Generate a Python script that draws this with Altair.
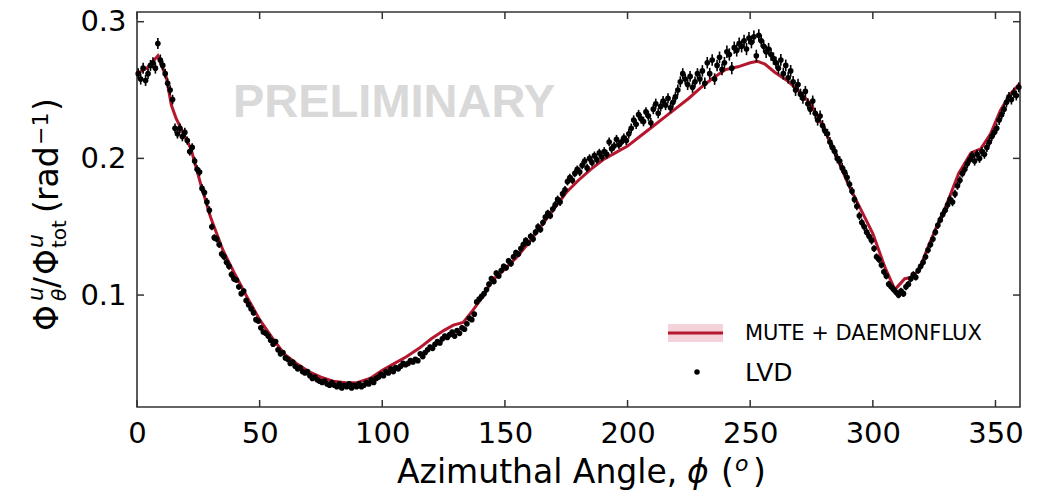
import altair as alt
import pandas as pd

# ---------------- data ----------------
# LVD measurement, one value per 1-degree bin (bin centres 0.5 ... 359.5)
lvd_flux = [
    0.262, 0.258, 0.266, 0.257, 0.262, 0.268, 0.270, 0.266, 0.284, 0.272,
    0.268, 0.262, 0.255, 0.250, 0.243, 0.222, 0.218, 0.222, 0.216, 0.219,
    0.213, 0.205, 0.208, 0.198, 0.192, 0.190, 0.178, 0.175, 0.168, 0.162,
    0.150, 0.142, 0.141, 0.137, 0.130, 0.128, 0.124, 0.121, 0.115, 0.112,
    0.111, 0.106, 0.101, 0.103, 0.096, 0.093, 0.090, 0.087, 0.082, 0.081,
    0.076, 0.073, 0.072, 0.070, 0.067, 0.064, 0.066, 0.060, 0.057, 0.058,
    0.054, 0.053, 0.050, 0.051, 0.048, 0.046, 0.047, 0.044, 0.043, 0.044,
    0.041, 0.039, 0.040, 0.038, 0.037, 0.036, 0.037, 0.035, 0.034, 0.036,
    0.034, 0.033, 0.035, 0.032, 0.034, 0.033, 0.035, 0.032, 0.034, 0.033,
    0.035, 0.033, 0.034, 0.036, 0.035, 0.038, 0.036, 0.039, 0.040, 0.042,
    0.041, 0.044, 0.043, 0.046, 0.044, 0.047, 0.046, 0.048, 0.050, 0.049,
    0.050, 0.052, 0.051, 0.053, 0.052, 0.057, 0.055, 0.058, 0.060, 0.062,
    0.061, 0.064, 0.066, 0.065, 0.068, 0.070, 0.069, 0.071, 0.073, 0.070,
    0.074, 0.072, 0.076, 0.075, 0.079, 0.083, 0.082, 0.086, 0.095, 0.097,
    0.099, 0.101, 0.104, 0.108, 0.112, 0.110, 0.116, 0.114, 0.118, 0.121,
    0.120, 0.125, 0.123, 0.128, 0.131, 0.130, 0.134, 0.137, 0.140, 0.138,
    0.143, 0.141, 0.146, 0.150, 0.148, 0.153, 0.157, 0.160, 0.158, 0.163,
    0.166, 0.170, 0.168, 0.174, 0.177, 0.183, 0.186, 0.184, 0.189, 0.192,
    0.190, 0.195, 0.198, 0.193, 0.200, 0.197, 0.202, 0.199, 0.204, 0.201,
    0.205, 0.203, 0.212, 0.207, 0.209, 0.214, 0.210, 0.212, 0.215, 0.213,
    0.218, 0.222, 0.228, 0.225, 0.232, 0.229, 0.227, 0.234, 0.231, 0.226,
    0.236, 0.240, 0.233, 0.238, 0.242, 0.239, 0.244, 0.237, 0.241, 0.245,
    0.250, 0.256, 0.262, 0.258, 0.254, 0.260, 0.252, 0.256, 0.262, 0.258,
    0.264, 0.255, 0.270, 0.262, 0.272, 0.258, 0.268, 0.274, 0.265, 0.270,
    0.278, 0.276, 0.266, 0.281, 0.279, 0.284, 0.282, 0.286, 0.280, 0.288,
    0.285, 0.289, 0.275, 0.290, 0.286, 0.282, 0.278, 0.280, 0.276, 0.273,
    0.270, 0.266, 0.272, 0.262, 0.268, 0.259, 0.264, 0.256, 0.250, 0.254,
    0.247, 0.244, 0.249, 0.240, 0.236, 0.242, 0.233, 0.228, 0.231, 0.224,
    0.220, 0.218, 0.212, 0.208, 0.205, 0.200, 0.198, 0.193, 0.190, 0.186,
    0.181, 0.176, 0.170, 0.165, 0.158, 0.153, 0.150, 0.146, 0.143, 0.140,
    0.134, 0.128, 0.126, 0.122, 0.117, 0.114, 0.108, 0.106, 0.104, 0.102,
    0.100, 0.103, 0.101, 0.106, 0.108, 0.112, 0.115, 0.113, 0.118, 0.121,
    0.124, 0.128, 0.133, 0.137, 0.141, 0.146, 0.151, 0.155, 0.159, 0.162,
    0.166, 0.170, 0.168, 0.174, 0.180, 0.184, 0.189, 0.192, 0.196, 0.199,
    0.202, 0.198, 0.203, 0.200, 0.205, 0.203, 0.208, 0.212, 0.216, 0.219,
    0.222, 0.228, 0.232, 0.236, 0.241, 0.245, 0.243, 0.248, 0.246, 0.252,
]
# statistical error, one value per 10-degree block
lvd_err_block = [
    0.0040, 0.0035, 0.0030, 0.0025, 0.0020, 0.0018, 0.0015, 0.0015, 0.0015, 0.0015,
    0.0015, 0.0016, 0.0017, 0.0018, 0.0020, 0.0022, 0.0025, 0.0028, 0.0030, 0.0032,
    0.0035, 0.0037, 0.0040, 0.0042, 0.0045, 0.0045, 0.0043, 0.0040, 0.0036, 0.0030,
    0.0025, 0.0024, 0.0026, 0.0030, 0.0033, 0.0036,
]
lvd_phi = [i + 0.5 for i in range(360)]

# MUTE + DAEMONFLUX prediction
model_phi = [0, 4, 8.5, 12, 14, 16, 19, 22, 26, 30, 35, 40, 45, 50, 55, 60, 65, 70,
             75, 80, 85, 90, 95, 100, 105, 110, 115, 120, 125, 129, 133, 137, 141,
             145, 150, 155, 160, 165, 170, 175, 180, 185, 190, 195, 200, 205, 210,
             215, 220, 225, 230, 235, 240, 245, 250, 253, 256, 260, 265, 270, 275,
             280, 285, 290, 295, 300, 305, 309, 311, 313, 316, 319, 322, 326, 330,
             335, 340, 344, 348, 352, 356, 360]
model_flux = [0.262, 0.266, 0.275, 0.259, 0.239, 0.229, 0.218, 0.207, 0.181, 0.157,
              0.133, 0.115, 0.098, 0.082, 0.069, 0.057, 0.050, 0.044, 0.040, 0.037,
              0.0358, 0.036, 0.039, 0.045, 0.050, 0.055, 0.061, 0.068, 0.074, 0.078,
              0.080, 0.089, 0.099, 0.111, 0.119, 0.128, 0.139, 0.151, 0.163, 0.175,
              0.184, 0.192, 0.199, 0.204, 0.209, 0.216, 0.223, 0.230, 0.237, 0.244,
              0.252, 0.259, 0.265, 0.267, 0.270, 0.271, 0.269, 0.263, 0.257, 0.249,
              0.239, 0.222, 0.202, 0.181, 0.163, 0.145, 0.120, 0.104, 0.108, 0.112,
              0.113, 0.119, 0.133, 0.150, 0.166, 0.189, 0.204, 0.207, 0.218, 0.235,
              0.247, 0.255]

x_ticks = [0, 50, 100, 150, 200, 250, 300, 350]
y_ticks = [0.1, 0.2, 0.3]

# ---------------- tables ----------------
lvd = pd.DataFrame({
    "phi": lvd_phi,
    "flux": lvd_flux,
    "err": [lvd_err_block[i // 10] for i in range(360)],
})
lvd["lo"] = lvd["flux"] - lvd["err"]
lvd["hi"] = lvd["flux"] + lvd["err"]
model = pd.DataFrame({"phi": model_phi, "flux": model_flux})
xt = pd.DataFrame({"phi": x_ticks})
yt = pd.DataFrame({"flux": y_ticks})
dummy = pd.DataFrame({"d": [0]})

W, H = 883, 395
RED = "#b5172e"
FONT = "DejaVu Sans"
SPINE = "#333333"

xs = alt.Scale(domain=[0, 360], nice=False, zero=False)
ys = alt.Scale(domain=[0.0181, 0.3071], nice=False, zero=False)

x_axis = alt.Axis(values=x_ticks, ticks=False, domain=False, grid=False,
                  labelFontSize=29, labelFont=FONT, labelColor="black",
                  labelPadding=12, labelFlush=False, title="")
y_axis = alt.Axis(values=y_ticks, format=".1f", ticks=False, domain=False,
                  grid=False, labelFontSize=29, labelFont=FONT,
                  labelColor="black", labelPadding=11, title="")


def X(field):
    return alt.X(field, scale=xs, axis=x_axis)


def Y(field):
    return alt.Y(field, scale=ys, axis=y_axis)


def label(t, x, y, size, angle=0, style="normal", align="left"):
    mk = dict(text=t, align=align, baseline="alphabetic", font=FONT,
              fontSize=size, fontStyle=style, color="black")
    if angle:
        mk["angle"] = angle
    return alt.Chart(dummy).mark_text(**mk).encode(x=alt.value(x), y=alt.value(y))


watermark = alt.Chart(dummy).mark_text(
    text="PRELIMINARY", font="Liberation Sans", fontWeight="bold",
    fontSize=47, color="#d9d9d9", align="center", baseline="alphabetic"
).encode(x=alt.value(257), y=alt.value(105))

line = alt.Chart(model).mark_line(color=RED, strokeWidth=3).encode(
    x=X("phi:Q"), y=Y("flux:Q"))

bars = alt.Chart(lvd).mark_rule(color="black", strokeWidth=1.6).encode(
    x=X("phi:Q"), y=Y("lo:Q"), y2="hi:Q")
pts = alt.Chart(lvd).mark_circle(color="black", size=32, opacity=1).encode(
    x=X("phi:Q"), y=Y("flux:Q"))

TL = 7
tick_style = dict(color=SPINE, strokeWidth=1.5)
tb = alt.Chart(xt).mark_rule(**tick_style).encode(
    x=X("phi:Q"), y=alt.value(H), y2=alt.value(H - TL))
tt = alt.Chart(xt).mark_rule(**tick_style).encode(
    x=X("phi:Q"), y=alt.value(0), y2=alt.value(TL))
tlft = alt.Chart(yt).mark_rule(**tick_style).encode(
    y=Y("flux:Q"), x=alt.value(0), x2=alt.value(TL))
trgt = alt.Chart(yt).mark_rule(**tick_style).encode(
    y=Y("flux:Q"), x=alt.value(W), x2=alt.value(W - TL))

# y-axis title built from pieces (rotated, reading bottom to top)
ytitle = [
    label("Φ", -79, 319, 33, 270),
    label("u", -94, 289, 22, 270, "italic"),
    label("θ", -71, 289, 20, 270, "italic"),
    label("/", -79, 276, 33, 270),
    label("Φ", -79, 263, 33, 270),
    label("u", -94, 236, 22, 270, "italic"),
    label("tot", -71, 236, 20, 270),
    label("(", -79, 201, 33, 270),
    label("rad", -79, 189, 33, 270),
    label("−1", -89, 133, 22, 270),
    label(")", -79, 99, 33, 270),
]
# x-axis title built from pieces
xtitle = [
    label("Azimuthal Angle,", 260, 471, 33),
    label("ϕ", 550, 471, 33, 0, "italic"),
    label("(", 584, 471, 33),
    label("o", 598, 459, 22, 0, "italic"),
    label(")", 616, 471, 33),
]

# legend
leg_band = alt.Chart(dummy).mark_rect(color="#f3d3d9").encode(
    x=alt.value(531), x2=alt.value(586), y=alt.value(312), y2=alt.value(330))
leg_line = alt.Chart(dummy).mark_rule(color=RED, strokeWidth=3).encode(
    x=alt.value(531), x2=alt.value(586), y=alt.value(321))
leg_t1 = alt.Chart(dummy).mark_text(
    text="MUTE + DAEMONFLUX", font=FONT, fontSize=21, color="black",
    align="left", baseline="middle").encode(x=alt.value(608), y=alt.value(322))
leg_dot = alt.Chart(dummy).mark_circle(color="black", size=30, opacity=1).encode(
    x=alt.value(560), y=alt.value(360))
leg_t2 = alt.Chart(dummy).mark_text(
    text="LVD", font=FONT, fontSize=25, color="black",
    align="left", baseline="middle").encode(x=alt.value(608), y=alt.value(361))

chart = alt.layer(
    line, watermark, bars, pts, tb, tt, tlft, trgt,
    *ytitle, *xtitle, leg_band, leg_line, leg_t1, leg_dot, leg_t2,
).properties(
    width=W, height=H,
    autosize=alt.AutoSizeParams(type="none"),
    padding={"left": 137, "top": 12, "right": 18, "bottom": 86},
    background="white",
).configure_view(stroke=SPINE, strokeWidth=1.6)

chart.save("out.html", embed_options={"renderer": "svg", "actions": False})
